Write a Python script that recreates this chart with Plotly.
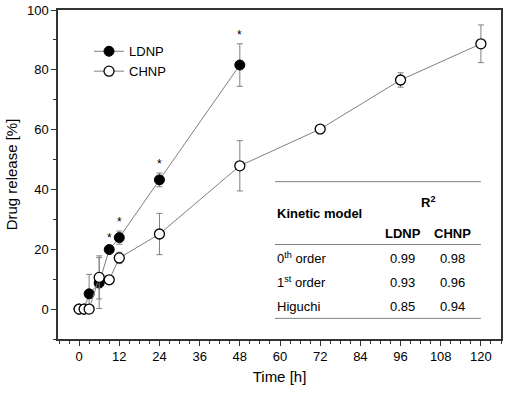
import plotly.graph_objects as go

# Data
ldnp_t = [0, 1.5, 3, 6, 9, 12, 24, 48]
ldnp_y = [0, 0, 5.1, 8.7, 19.9, 23.9, 43.2, 81.6]
ldnp_err = [0, 0, 6.5, 8.5, 0.8, 2.2, 2.3, 7.1]

chnp_t = [0, 1.5, 3, 6, 9, 12, 24, 48, 72, 96, 120]
chnp_y = [0, 0, 0, 10.6, 9.8, 17.1, 25.1, 47.9, 60.2, 76.6, 88.7]
chnp_err = [0, 0, 0, 7.2, 0.6, 1.9, 6.9, 8.4, 0.6, 2.4, 6.3]

star_t = [9, 12, 24, 48]

table_models = ["0<sup>th</sup> order", "1<sup>st</sup> order", "Higuchi"]
table_ldnp = ["0.99", "0.93", "0.85"]
table_chnp = ["0.98", "0.96", "0.94"]

FONT = "Arial, Liberation Sans, sans-serif"
LINE = "#808080"

fig = go.Figure()
fig.add_trace(go.Scatter(
    x=ldnp_t, y=ldnp_y, name="LDNP", mode="lines+markers",
    line=dict(color=LINE, width=1),
    marker=dict(symbol="circle", size=10, color="black", line=dict(color="black", width=1)),
    error_y=dict(type="data", array=ldnp_err, color=LINE, thickness=1, width=3),
))
fig.add_trace(go.Scatter(
    x=chnp_t, y=chnp_y, name="CHNP", mode="lines+markers",
    line=dict(color=LINE, width=1),
    marker=dict(symbol="circle", size=10, color="white", line=dict(color="black", width=1.3)),
    error_y=dict(type="data", array=chnp_err, color=LINE, thickness=1, width=3),
))

# significance stars
for t in star_t:
    i = ldnp_t.index(t)
    fig.add_annotation(x=t, y=ldnp_y[i] + ldnp_err[i], text="*", showarrow=False,
                       yanchor="bottom", yshift=0, font=dict(size=12, color="black", family=FONT))

# inset table
tx0, tx1 = 58.5, 120
col_l, col_c = 96.7, 111.6
for yv in [42.6, 21.6, -3.1]:
    fig.add_shape(type="line", x0=tx0, x1=tx1, y0=yv, y1=yv, xref="x", yref="y",
                  line=dict(color=LINE, width=1))

def txt(x, y, s, anchor="center", bold=False):
    fig.add_annotation(x=x, y=y, text=f"<b>{s}</b>" if bold else s, showarrow=False,
                       xanchor=anchor, yanchor="middle",
                       font=dict(size=13, color="black", family=FONT))

txt(104.2, 35.7, "R<sup>2</sup>", bold=True)
txt(tx0, 31.8, "Kinetic model", anchor="left", bold=True)
txt(col_l, 25.3, "LDNP", bold=True)
txt(col_c, 25.3, "CHNP", bold=True)
row_y = [17.0, 9.0, 0.9]
for m, a, b, yv in zip(table_models, table_ldnp, table_chnp, row_y):
    txt(tx0, yv, m, anchor="left")
    txt(col_l, yv, a)
    txt(col_c, yv, b)

fig.update_layout(
    width=505, height=393,
    margin=dict(l=58, r=4, t=10, b=54),
    paper_bgcolor="white", plot_bgcolor="white",
    font=dict(family=FONT, size=13, color="black"),
    showlegend=True,
    legend=dict(x=0.07, y=0.92, xanchor="left", yanchor="top",
                bgcolor="rgba(0,0,0,0)", font=dict(size=13, family=FONT),
                itemwidth=30, tracegroupgap=0),
)
fig.update_xaxes(
    range=[-6.3, 126], tickmode="linear", tick0=0, dtick=12, automargin=False,
    showgrid=False, zeroline=False, showline=True, linecolor="#333", linewidth=1.5,
    mirror=True, ticks="outside", ticklen=5, tickcolor="#333", tickwidth=1,
    tickfont=dict(size=13),
    minor=dict(tick0=0, dtick=3, ticks="outside", ticklen=3, tickcolor="#333", showgrid=False),
    title=dict(text="Time [h]", font=dict(size=15), standoff=8),
)
fig.update_yaxes(
    range=[-10, 100], tickmode="array", tickvals=[0, 20, 40, 60, 80, 100], automargin=False,
    showgrid=False, zeroline=False, showline=True, linecolor="#333", linewidth=1.5,
    mirror=True, ticks="outside", ticklen=5, tickcolor="#333", tickwidth=1,
    tickfont=dict(size=13),
    minor=dict(tick0=0, dtick=10, ticks="outside", ticklen=3, tickcolor="#333", showgrid=False),
    title=dict(text="Drug release [%]", font=dict(size=15), standoff=6),
)

fig.write_html("out.html", config={"displayModeBar": False},
               post_script="document.body.style.margin='0';")
